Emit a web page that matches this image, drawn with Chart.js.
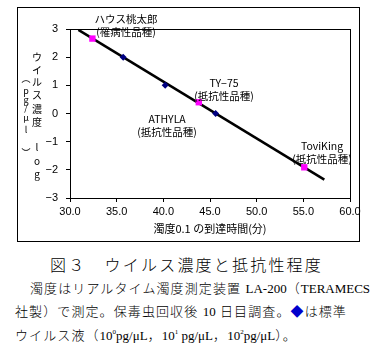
<!DOCTYPE html>
<html>
<head>
<meta charset="utf-8">
<script src="https://cdn.jsdelivr.net/npm/chart.js@4.4.1/dist/chart.umd.min.js"></script>
<style>
  html, body { margin: 0; padding: 0; background: #fff; }
  body { width: 381px; height: 348px; position: relative; overflow: hidden; }
  #wrap { position: absolute; left: 0; top: 0; width: 381px; height: 245px; }
  .cap { position: absolute; white-space: nowrap; color: #000; font-weight: 300;
         font-family: "Liberation Serif", "Noto Sans CJK JP", serif; }
  #title { top: 252px; left: 50px; font-size: 16px; letter-spacing: 2.2px;
           font-family: "Noto Sans CJK JP", sans-serif; }
  .line { font-size: 13px; letter-spacing: 1.1px; }
  .lat { letter-spacing: 0; }
  #l1 { top: 278px; left: 30px; }
  #l2 { top: 301px; left: 15px; }
  #l3 { top: 325px; left: 15px; }
  .dia { color: #0000cc; }
  sup { font-size: 7px; vertical-align: 6px; line-height: 0; letter-spacing: 0; }
</style>
</head>
<body>
<div id="wrap"><canvas id="c" width="381" height="245"></canvas></div>
<div class="cap" id="title">図３　ウイルス濃度と抵抗性程度</div>
<div class="cap line" id="l1">濁度はリアルタイム濁度測定装置 <span class="lat">LA-200</span>（<span class="lat">TERAMECS</span></div>
<div class="cap line" id="l2">社製）で測定。保毒虫回収後 <span class="lat">10</span> 日目調査。<span class="dia">◆</span>は標準</div>
<div class="cap line" id="l3">ウイルス液（<span class="lat">10<sup>0</sup>pg/μL</span>，<span class="lat">10<sup>1</sup> pg/μL</span>，<span class="lat">10<sup>2</sup>pg/μL</span>）。</div>
<script>
// Time to reach turbidity 0.1 (min) and virus concentration (log pg/μl)
const standardTime = [35.7, 40.2, 45.6];
const standardConc = [2.0, 1.0, 0.0];

const varietyNames = ["ハウス桃太郎", "TY−75", "ATHYLA", "ToviKing"];
const varietyTypes = ["(罹病性品種)", "(抵抗性品種)", "(抵抗性品種)", "(抵抗性品種)"];
const varietyTime = [32.4, 43.8, 43.8, 55.1];
const varietyConc = [2.66, 0.40, 0.40, -1.91];

// Calibration line end points
const fitTime = [30.9, 57.25];
const fitConc = [2.97, -2.35];

const xTicks = [30, 35, 40, 45, 50, 55, 60];
const yTicks = [-3, -2, -1, 0, 1, 2, 3];

const toXY = (xs, ys) => xs.map((x, i) => ({ x: x, y: ys[i] }));

// Label anchors (data units) for each variety
const labelAt = [
  { x: 36.0, y: 3.35 },
  { x: 46.5, y: 1.08 },
  { x: 40.4, y: -0.18 },
  { x: 57.0, y: -1.15 }
];

const decor = {
  id: 'decor',
  afterDraw(chart) {
    const ctx = chart.ctx;
    const a = chart.chartArea;
    const xs = chart.scales.x, ys = chart.scales.y;
    ctx.save();
    // outer frame
    ctx.strokeStyle = '#000';
    ctx.lineWidth = 1;
    ctx.strokeRect(17.5, 7.5, 342, 234);
    // plot frame
    ctx.strokeRect(a.left + 0.5, a.top + 0.5, a.right - a.left, a.bottom - a.top);

    ctx.fillStyle = '#000';
    ctx.textAlign = 'center';
    ctx.textBaseline = 'middle';

    // variety labels
    ctx.font = '10.5px "Noto Sans CJK JP", sans-serif';
    labelAt.forEach((p, i) => {
      const px = xs.getPixelForValue(p.x);
      const py = ys.getPixelForValue(p.y);
      ctx.fillText(varietyNames[i], px, py);
      ctx.fillText(varietyTypes[i], px, py + 13);
    });

    // x axis title
    ctx.font = '11px "Noto Sans CJK JP", sans-serif';
    ctx.fillText('濁度0.1 の到達時間(分)', (a.left + a.right) / 2, 229);

    // y axis title, stacked vertically
    const col1 = [['ウ',57],['イ',70],['ル',82],['ス',95],['濃',109],['度',122],['l',147],['o',161],['g',174]];
    const col2 = [['︵',79],['p',91],['g',100],['/',108],['μ',118],['l',130],['︶',153]];
    ctx.font = '10px "Noto Sans CJK JP", sans-serif';
    col1.forEach(([t, y]) => ctx.fillText(t, 37, y));
    ctx.font = '9px "Noto Sans CJK JP", sans-serif';
    col2.forEach(([t, y]) => ctx.fillText(t, 26, y));
    ctx.restore();
  }
};

new Chart(document.getElementById('c'), {
  type: 'scatter',
  data: {
    datasets: [
      {
        type: 'line',
        data: toXY(fitTime, fitConc),
        borderColor: '#000',
        borderWidth: 2.5,
        pointRadius: 0,
        fill: false,
        order: 3
      },
      {
        data: toXY(standardTime, standardConc),
        pointStyle: 'rectRot',
        pointRadius: 3.5,
        backgroundColor: '#000080',
        borderColor: '#000080',
        borderWidth: 0,
        order: 1
      },
      {
        data: toXY(varietyTime, varietyConc).filter((p, i) => i !== 2),
        pointStyle: 'rect',
        pointRadius: 4.5,
        backgroundColor: '#ff00ff',
        borderColor: '#ff00ff',
        borderWidth: 0,
        order: 2
      }
    ]
  },
  options: {
    responsive: false,
    animation: false,
    events: [],
    layout: { padding: { left: 30, right: 31, top: 29, bottom: 8 } },
    plugins: { legend: { display: false }, tooltip: { enabled: false } },
    scales: {
      x: {
        type: 'linear',
        min: 30, max: 60,
        afterFit: s => { s.height = 39; },
        afterBuildTicks: s => { s.ticks = xTicks.map(v => ({ value: v })); },
        grid: { drawOnChartArea: false, drawTicks: true, tickLength: 4, color: '#000' },
        border: { color: '#000', width: 1 },
        ticks: {
          color: '#000', padding: 3,
          font: { family: 'Liberation Sans', size: 11 },
          callback: v => v.toFixed(1)
        }
      },
      y: {
        type: 'linear',
        min: -3, max: 3,
        afterFit: s => { s.width = 40; },
        afterBuildTicks: s => { s.ticks = yTicks.map(v => ({ value: v })); },
        grid: { drawOnChartArea: false, drawTicks: true, tickLength: 4, color: '#000' },
        border: { color: '#000', width: 1 },
        ticks: {
          color: '#000', padding: 8,
          font: { family: 'Liberation Sans', size: 11 },
          callback: v => (v < 0 ? '−' + Math.abs(v) : String(v))
        }
      }
    }
  },
  plugins: [decor]
});
</script>
</body>
</html>
